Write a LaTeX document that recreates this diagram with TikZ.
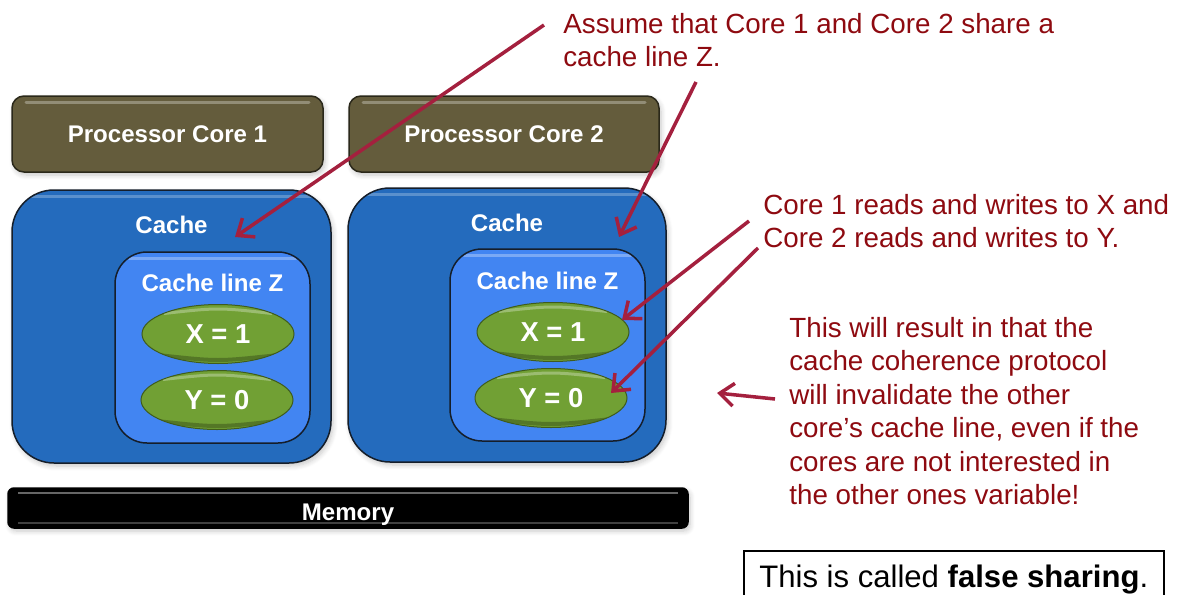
\documentclass[tikz,border=0pt]{standalone}
\usepackage{fontspec}
\setmainfont{Liberation Sans}
\usetikzlibrary{arrows.meta,shadows.blur,shapes.geometric}

% one drawing unit
\newdimen\upx \upx=0.02cm

\definecolor{coreFill}{HTML}{645C3C}
\definecolor{coreEdge}{HTML}{2A281A}
\definecolor{cacheFill}{HTML}{246BBD}
\definecolor{lineFill}{HTML}{4285F2}
\definecolor{boxEdge}{HTML}{151E2A}
\definecolor{varFill}{HTML}{71A034}
\definecolor{varEdge}{HTML}{3F5C1C}
\definecolor{noteRed}{HTML}{8E0A10}
\definecolor{arrowRed}{HTML}{A4203E}

\tikzset{
  softshadow/.style={blur shadow={shadow xshift=2\upx, shadow yshift=-3\upx,
      shadow opacity=22, shadow blur steps=6, shadow blur radius=5\upx}},
  tophighlight/.style={path picture={
      \draw[white, opacity=#1, line width=3\upx, line cap=round]
        ([xshift=14\upx, yshift=-6\upx]path picture bounding box.north west) --
        ([xshift=-14\upx, yshift=-6\upx]path picture bounding box.north east);}},
  corebox/.style={draw=coreEdge, line width=1.5\upx, fill=coreFill,
      rounded corners=12\upx, minimum width=311\upx, minimum height=76\upx,
      inner sep=0pt, softshadow, tophighlight=0.3},
  cachebox/.style={draw=boxEdge, line width=1.5\upx, fill=cacheFill,
      rounded corners=42\upx, minimum width=319\upx, minimum height=273\upx,
      inner sep=0pt, softshadow, tophighlight=0.25},
  linebox/.style={draw=boxEdge, line width=1.5\upx, fill=lineFill,
      rounded corners=32\upx, minimum width=195\upx, minimum height=191\upx,
      inner sep=0pt, tophighlight=0.3},
  varbox/.style={ellipse, draw=varEdge, line width=1\upx, fill=varFill,
      minimum width=152\upx, minimum height=59\upx, inner sep=0pt,
      text=white, font=\fontsize{15.6}{18}\selectfont\bfseries,
      path picture={
        \draw[white, opacity=0.3, line width=3\upx]
          ([xshift=22\upx, yshift=-9\upx]path picture bounding box.north west)
          .. controls ([yshift=-3\upx]path picture bounding box.north) ..
          ([xshift=-22\upx, yshift=-9\upx]path picture bounding box.north east);
        \draw[black, opacity=0.25, line width=4\upx]
          ([xshift=20\upx, yshift=8\upx]path picture bounding box.south west)
          .. controls ([yshift=2\upx]path picture bounding box.south) ..
          ([xshift=-20\upx, yshift=8\upx]path picture bounding box.south east);}},
  membox/.style={draw=black, line width=1.5\upx, fill=black,
      rounded corners=6\upx, minimum width=680\upx, minimum height=40\upx,
      inner sep=0pt, softshadow,
      path picture={
        \draw[white, opacity=0.4, line width=2\upx]
          ([xshift=10\upx, yshift=-5\upx]path picture bounding box.north west) --
          ([xshift=-10\upx, yshift=-5\upx]path picture bounding box.north east);
        \draw[white, opacity=0.25, line width=2\upx]
          ([xshift=10\upx, yshift=5\upx]path picture bounding box.south west) --
          ([xshift=-10\upx, yshift=5\upx]path picture bounding box.south east);}},
  boxlabel/.style={text=white, font=\fontsize{13.7}{16}\selectfont\bfseries, inner sep=0pt},
  note/.style={text=noteRed, font=\fontsize{15.8}{19}\selectfont, align=left,
      anchor=north west, inner sep=0pt},
  pointer/.style={draw=arrowRed, line width=2pt,
      -{Straight Barb[length=8pt, width=13pt]}},
}

\begin{document}
\begin{tikzpicture}[x=1\upx, y=-1\upx]
  \useasboundingbox (0,0) rectangle (1180,595);

  % processor cores
  \node[corebox] (core1) at (167.5,134) {};
  \node[corebox, minimum width=310\upx] (core2) at (504,134) {};
  \node[boxlabel] at (core1.center) {Processor Core 1};
  \node[boxlabel] at (core2.center) {Processor Core 2};

  % private caches
  \node[cachebox] (cache1) at (171.5,326.5) {};
  \node[cachebox, minimum width=318\upx, minimum height=274\upx] (cache2) at (507,325) {};
  \node[boxlabel] at ([yshift=-36\upx]cache1.north) {Cache};
  \node[boxlabel] at ([yshift=-36\upx]cache2.north) {Cache};

  % the shared cache line in each cache
  \node[linebox] (line1) at (212.5,347.5) {};
  \node[linebox, minimum height=192\upx] (line2) at (547.5,345) {};
  \node[boxlabel] at ([yshift=-32\upx]line1.north) {Cache line Z};
  \node[boxlabel] at ([yshift=-33\upx]line2.north) {Cache line Z};

  % variables held in the line
  \node[varbox] (x1) at (218,334) {X = 1};
  \node[varbox] (y1) at (217,400) {Y = 0};
  \node[varbox] (x2) at (553,332) {X = 1};
  \node[varbox] (y2) at (551,398) {Y = 0};

  % main memory
  \node[membox] (mem) at (348,508) {};
  \node[boxlabel] at ([yshift=-7\upx]mem.center) {Memory};

  % explanations
  \node[note] (note1) at (563,13) {Assume that Core 1 and Core 2 share a\\cache line Z.};
  \node[note] (note2) at (763,194) {Core 1 reads and writes to X and\\Core 2 reads and writes to Y.};
  \node[note] (note3) at (789,317) {This will result in that the\\cache coherence protocol\\will invalidate the other\\core’s cache line, even if the\\cores are not interested in\\the other ones variable!};

  \node[draw=black, line width=1.5\upx, anchor=north west, minimum width=420\upx,
        inner xsep=0pt, inner ysep=14\upx, font=\fontsize{17.7}{21}\selectfont]
        (fs) at (743,550) {This is called \textbf{false sharing}.};

  % pointers
  \coordinate (a1s) at (544,25);  \coordinate (a1e) at (235,237);
  \coordinate (a2s) at (696,82);  \coordinate (a2e) at (619,237);
  \coordinate (a3s) at (749,221); \coordinate (a3e) at (622,320);
  \coordinate (a4s) at (758,248); \coordinate (a4e) at (611,393);
  \coordinate (a5s) at (775,399); \coordinate (a5e) at (717,393);
  \draw[pointer] (a1s) -- (a1e);
  \draw[pointer] (a2s) -- (a2e);
  \draw[pointer] (a3s) -- (a3e);
  \draw[pointer] (a4s) -- (a4e);
  \draw[pointer] (a5s) -- (a5e);
\end{tikzpicture}
\end{document}
